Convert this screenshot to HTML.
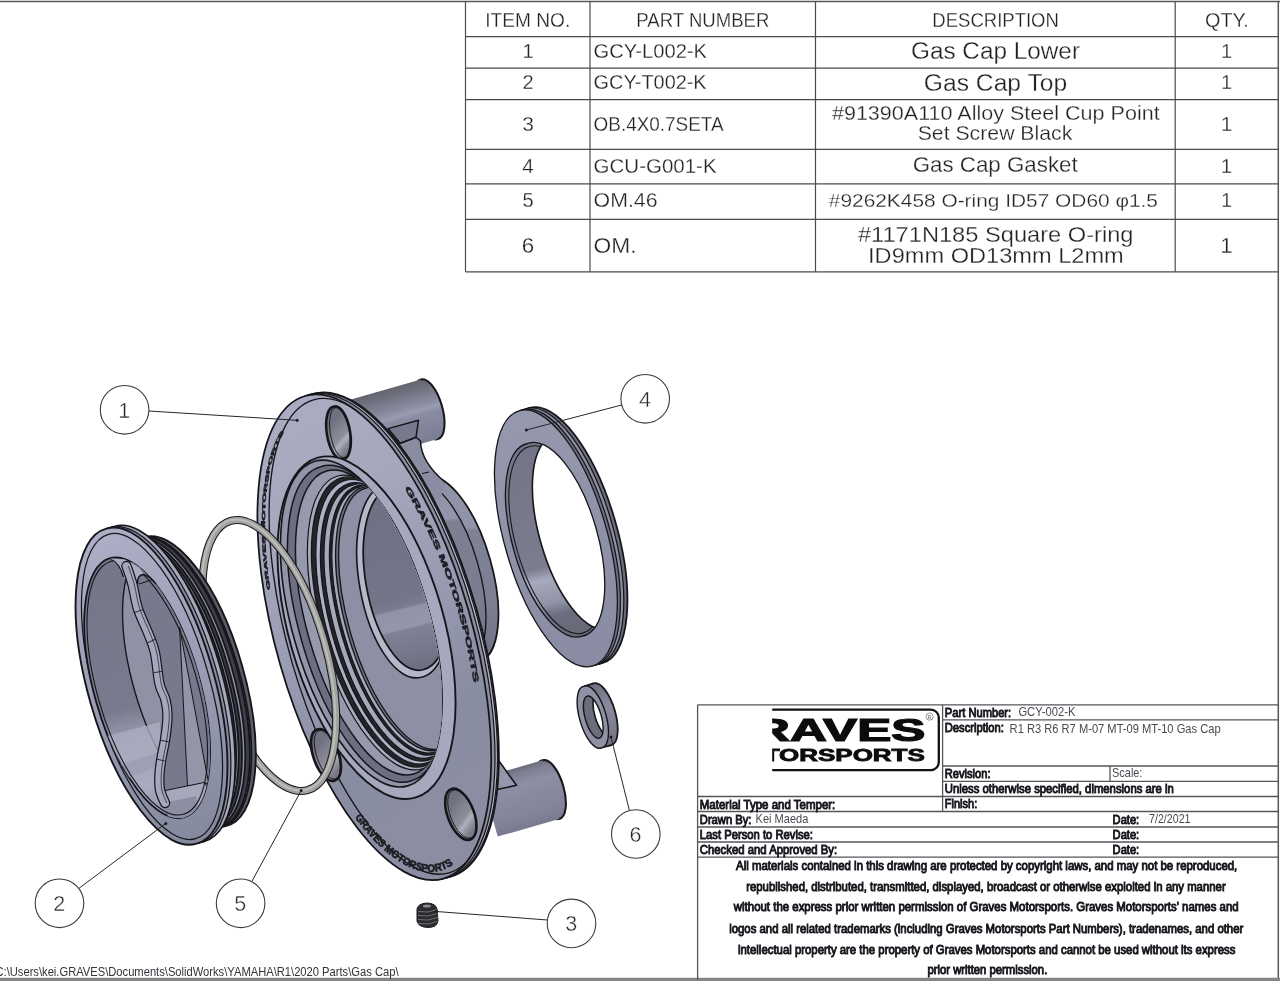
<!DOCTYPE html>
<html><head><meta charset="utf-8"><title>GCY-002-K Gas Cap</title>
<style>
html,body{margin:0;padding:0;background:#fff;}
body{width:1280px;height:981px;overflow:hidden;}
svg{display:block;will-change:transform;font-family:'Liberation Sans','DejaVu Sans',sans-serif;}
</style></head><body>
<svg width="1280" height="981" viewBox="0 0 1280 981">
<defs>
<linearGradient id="gFace" gradientUnits="userSpaceOnUse" x1="280" y1="450" x2="480" y2="760"><stop offset="0" stop-color="#a9acc1"/><stop offset="0.2" stop-color="#a5a8bd"/><stop offset="0.5" stop-color="#999cb2"/><stop offset="0.85" stop-color="#888ca1"/><stop offset="1" stop-color="#8b8ea3"/></linearGradient>
<linearGradient id="gCyl" gradientUnits="objectBoundingBox" x1="0.35" y1="0" x2="0.65" y2="1">
 <stop offset="0" stop-color="#6e7080"/><stop offset="0.3" stop-color="#8a8c9e"/><stop offset="0.55" stop-color="#9ea0b4"/><stop offset="0.62" stop-color="#808294"/><stop offset="1" stop-color="#6c6e7e"/></linearGradient>
<linearGradient id="gBore" gradientUnits="objectBoundingBox" x1="0.4" y1="0" x2="0.6" y2="1">
 <stop offset="0" stop-color="#7d7f90"/><stop offset="0.5" stop-color="#888a9c"/><stop offset="0.56" stop-color="#a6a8ba"/><stop offset="0.68" stop-color="#9698aa"/><stop offset="0.72" stop-color="#777989"/><stop offset="1" stop-color="#6f7181"/></linearGradient>
<linearGradient id="gDark" gradientUnits="objectBoundingBox" x1="0.4" y1="0" x2="0.6" y2="1">
 <stop offset="0" stop-color="#6a6c7b"/><stop offset="0.5" stop-color="#7f8193"/><stop offset="1" stop-color="#656776"/></linearGradient>
<linearGradient id="gTube" gradientUnits="objectBoundingBox" x1="0.42" y1="0" x2="0.58" y2="1">
 <stop offset="0" stop-color="#6d6f7f"/><stop offset="0.25" stop-color="#8c8ea1"/><stop offset="0.45" stop-color="#9c9eb2"/><stop offset="0.6" stop-color="#8b8da0"/><stop offset="1" stop-color="#747687"/></linearGradient>
<linearGradient id="gBoss" gradientUnits="objectBoundingBox" x1="0.3" y1="0" x2="0.7" y2="1">
 <stop offset="0" stop-color="#7a7c8d"/><stop offset="0.5" stop-color="#8f91a5"/><stop offset="1" stop-color="#6f7182"/></linearGradient>
<linearGradient id="gBoss2" gradientUnits="objectBoundingBox" x1="0.3" y1="0" x2="0.7" y2="1">
 <stop offset="0" stop-color="#6c6e7e"/><stop offset="0.3" stop-color="#a0a2b6"/><stop offset="0.5" stop-color="#7c7e90"/><stop offset="1" stop-color="#666878"/></linearGradient>
<linearGradient id="gFace4" gradientUnits="userSpaceOnUse" x1="520" y1="410" x2="600" y2="670"><stop offset="0" stop-color="#9699ae"/><stop offset="1" stop-color="#888ba1"/></linearGradient>
<linearGradient id="gSleeve" gradientUnits="userSpaceOnUse" x1="530" y1="440" x2="575" y2="640">
 <stop offset="0" stop-color="#737586"/><stop offset="0.62" stop-color="#7b7d8f"/><stop offset="0.68" stop-color="#a7a9bc"/><stop offset="0.8" stop-color="#9092a6"/><stop offset="0.86" stop-color="#6c6e7e"/><stop offset="1" stop-color="#666877"/></linearGradient>
<linearGradient id="gRing6" gradientUnits="userSpaceOnUse" x1="590" y1="684" x2="612" y2="748">
 <stop offset="0" stop-color="#6d6f7f"/><stop offset="0.4" stop-color="#8a8c9e"/><stop offset="1" stop-color="#707283"/></linearGradient>
<linearGradient id="gFace2" gradientUnits="userSpaceOnUse" x1="100" y1="540" x2="200" y2="835"><stop offset="0" stop-color="#abaec4"/><stop offset="0.5" stop-color="#999cb2"/><stop offset="1" stop-color="#858a9e"/></linearGradient>
<linearGradient id="gPocket" gradientUnits="userSpaceOnUse" x1="110" y1="560" x2="180" y2="818">
 <stop offset="0" stop-color="#747788"/><stop offset="0.55" stop-color="#787b8d"/><stop offset="0.68" stop-color="#9d9fb3"/><stop offset="0.85" stop-color="#a9abbe"/><stop offset="1" stop-color="#8e90a3"/></linearGradient>
</defs>
<g id="parts" stroke-linejoin="round">
<g id="part1">
<linearGradient id="ug1" gradientUnits="userSpaceOnUse" x1="382.3" y1="390.5" x2="399.4" y2="450.1"><stop offset="0" stop-color="#62646e"/><stop offset="0.12" stop-color="#6e707d"/><stop offset="0.38" stop-color="#898ca0"/><stop offset="0.47" stop-color="#999cb0"/><stop offset="0.55" stop-color="#8a8da2"/><stop offset="0.8" stop-color="#80839a"/><stop offset="1" stop-color="#7b7e92"/></linearGradient>
<path d="M420.8,379.5 A31.0,12.7 74.0 1 0 437.8,439.1 A31.0,12.7 74.0 1 0 420.8,379.5 Z" fill="url(#ug1)" stroke="#15151a" stroke-width="2.03"/>
<polygon points="343.9,401.6 420.8,379.5 437.8,439.1 360.9,461.2" fill="url(#ug1)"/>
<linearGradient id="ug2" gradientUnits="userSpaceOnUse" x1="511.6" y1="769.1" x2="528.4" y2="827.7"><stop offset="0" stop-color="#6a6c79"/><stop offset="0.1" stop-color="#7d8093"/><stop offset="0.28" stop-color="#8d90a4"/><stop offset="0.5" stop-color="#888ba0"/><stop offset="0.8" stop-color="#82859a"/><stop offset="1" stop-color="#787b8f"/></linearGradient>
<path d="M542.4,760.3 A30.5,12.5 74.0 1 0 559.2,818.9 A30.5,12.5 74.0 1 0 542.4,760.3 Z" fill="url(#ug2)" stroke="#15151a" stroke-width="2.03"/>
<polygon points="480.9,777.9 542.4,760.3 559.2,818.9 497.7,836.6" fill="url(#ug2)"/>
<linearGradient id="ug3" gradientUnits="userSpaceOnUse" x1="440.0" y1="450.0" x2="470.0" y2="660.0"><stop offset="0" stop-color="#8d90a4"/><stop offset="0.38" stop-color="#9295a9"/><stop offset="0.4" stop-color="#7f8295"/><stop offset="0.75" stop-color="#7d8093"/><stop offset="1" stop-color="#6f7285"/></linearGradient>
<path d="M426.5,477.8 A95.5,38.2 74.0 1 0 479.1,661.4 A95.5,38.2 74.0 1 0 426.5,477.8 Z" fill="url(#ug3)" stroke="#15151a" stroke-width="1.76"/>
<linearGradient id="ug4" gradientUnits="userSpaceOnUse" x1="430.0" y1="450.0" x2="460.0" y2="660.0"><stop offset="0" stop-color="#8a8da1"/><stop offset="0.33" stop-color="#9497ab"/><stop offset="0.35" stop-color="#7d8093"/><stop offset="0.75" stop-color="#7a7d90"/><stop offset="1" stop-color="#6c6f82"/></linearGradient>
<path d="M414.0,481.4 A95.5,38.2 74.0 1 0 466.6,665.0 A95.5,38.2 74.0 1 0 414.0,481.4 Z" fill="url(#ug4)" stroke="#15151a" stroke-width="1.35"/>
<path d="M400.2,443.3 L416,437.2 L420.4,440.9 Q421,462 445.5,482.5 L441,497 L425,505 L394,446 Z" fill="#8a8da2"/>
<path d="M400.2,443.3 L416,437.2 L420.4,440.9 Q421,462 445.5,482.5" fill="none" stroke="#15151a" stroke-width="1.5"/>
<path d="M388,428.6 L418.5,420.3 L416,437.2 L400.2,443.3 Z" fill="#767a8c" stroke="#15151a" stroke-width="1.5"/>
<path d="M422,473.5 L429,472" stroke="#15151a" stroke-width="1.2"/>
<path d="M496,757 L500.6,763.3 L516.5,785.3 L497,789.5 Z" fill="#9598ad" stroke="#15151a" stroke-width="1.6"/>
<path d="M312.8,393.8 A251.0,98.0 74.0 1 0 451.2,876.4 A251.0,98.0 74.0 1 0 312.8,393.8 Z" fill="#85879a" stroke="#15151a" stroke-width="1.76"/>
<polygon points="305.1,396.0 312.8,393.8 451.2,876.4 443.5,878.6" fill="#85879a"/>
<path d="M305.1,396.0 L312.8,393.8 M443.5,878.6 L451.2,876.4" fill="none" stroke="#15151a" stroke-width="1.49"/>
<path d="M310.2,394.6 A251.0,98.0 74.0 1 0 448.6,877.1 A251.0,98.0 74.0 1 0 310.2,394.6 Z" fill="#b4b6c8" stroke="#15151a" stroke-width="1.22"/>
<path d="M307.7,395.3 A251.0,98.0 74.0 1 0 446.1,877.8 A251.0,98.0 74.0 1 0 307.7,395.3 Z" fill="#8c8ea1" stroke="#15151a" stroke-width="1.22"/>
<path d="M305.1,396.0 A251.0,98.0 74.0 1 0 443.5,878.6 A251.0,98.0 74.0 1 0 305.1,396.0 Z" fill="url(#gFace)" stroke="#15151a" stroke-width="1.76"/>
<clipPath id="faceclip"><ellipse cx="374.3" cy="637.3" rx="98" ry="251.0" transform="rotate(-16.0 374.3 637.3)"/></clipPath>
<g clip-path="url(#faceclip)">
<path d="M313.5,399.8 A246.0,93.0 74.0 1 0 449.1,872.8 A246.0,93.0 74.0 1 0 313.5,399.8 Z" fill="none" stroke="#15151a" stroke-width="1.35"/>
</g>
<linearGradient id="ug5" gradientUnits="userSpaceOnUse" x1="327.4" y1="427.6" x2="349.6" y2="447.7"><stop offset="0" stop-color="#6f7180"/><stop offset="0.3" stop-color="#80828f"/><stop offset="0.55" stop-color="#8b8d99"/><stop offset="0.7" stop-color="#aeb0bd"/><stop offset="0.85" stop-color="#8e909c"/><stop offset="1" stop-color="#777986"/></linearGradient>
<path d="M334.1,406.6 A26.8,11.1 80.5 1 0 342.9,459.4 A26.8,11.1 80.5 1 0 334.1,406.6 Z" fill="url(#ug5)" stroke="#15151a" stroke-width="2.56"/>
<path d="M335.6,407.8 A25.2,9.5 80.5 1 0 344.0,457.6 A25.2,9.5 80.5 1 0 335.6,407.8 Z" fill="none" stroke="#15151a" stroke-width="0.94"/>
<linearGradient id="ug6" gradientUnits="userSpaceOnUse" x1="447.6" y1="808.9" x2="474.0" y2="829.1"><stop offset="0" stop-color="#6f7180"/><stop offset="0.3" stop-color="#80828f"/><stop offset="0.55" stop-color="#8b8d99"/><stop offset="0.7" stop-color="#aeb0bd"/><stop offset="0.85" stop-color="#8e909c"/><stop offset="1" stop-color="#777986"/></linearGradient>
<path d="M451.1,789.1 A27.0,13.2 69 1 0 470.5,839.5 A27.0,13.2 69 1 0 451.1,789.1 Z" fill="url(#ug6)" stroke="#15151a" stroke-width="2.56"/>
<path d="M453.0,790.3 A25.4,11.4 69 1 0 471.2,837.7 A25.4,11.4 69 1 0 453.0,790.3 Z" fill="none" stroke="#15151a" stroke-width="0.94"/>
<linearGradient id="ug7" gradientUnits="userSpaceOnUse" x1="313.9" y1="749.6" x2="338.1" y2="769.9"><stop offset="0" stop-color="#6f7180"/><stop offset="0.3" stop-color="#80828f"/><stop offset="0.55" stop-color="#8b8d99"/><stop offset="0.7" stop-color="#aeb0bd"/><stop offset="0.85" stop-color="#8e909c"/><stop offset="1" stop-color="#777986"/></linearGradient>
<path d="M317.2,729.5 A27.0,12.2 71 1 0 334.8,780.5 A27.0,12.2 71 1 0 317.2,729.5 Z" fill="url(#ug7)" stroke="#15151a" stroke-width="2.56"/>
<path d="M319.0,730.7 A25.4,10.4 71 1 0 335.6,778.7 A25.4,10.4 71 1 0 319.0,730.7 Z" fill="none" stroke="#15151a" stroke-width="0.94"/>
<path d="M317.8,457.7 A176.8,77.5 74.0 1 0 415.2,797.7 A176.8,77.5 74.0 1 0 317.8,457.7 Z" fill="#a6a9be" stroke="#15151a" stroke-width="1.89"/>
<clipPath id="lv1"><path d="M317.8,457.7 A176.8,77.5 74.0 1 0 415.2,797.7 A176.8,77.5 74.0 1 0 317.8,457.7 Z"/></clipPath>
<g clip-path="url(#lv1)">
<path d="M314.7,461.3 A168.8,68.6 74.0 1 0 407.8,785.9 A168.8,68.6 74.0 1 0 314.7,461.3 Z" fill="#9294a8" stroke="#15151a" stroke-width="1.62"/>
<clipPath id="lv2"><path d="M314.7,461.3 A168.8,68.6 74.0 1 0 407.8,785.9 A168.8,68.6 74.0 1 0 314.7,461.3 Z"/></clipPath>
<g clip-path="url(#lv2)">
<path d="M320.8,466.7 A163.5,65.4 74.0 1 0 410.9,781.0 A163.5,65.4 74.0 1 0 320.8,466.7 Z" fill="#6d6f80" stroke="#15151a" stroke-width="1.49"/>
<clipPath id="lv3"><path d="M320.8,466.7 A163.5,65.4 74.0 1 0 410.9,781.0 A163.5,65.4 74.0 1 0 320.8,466.7 Z"/></clipPath>
<g clip-path="url(#lv3)">
<path d="M326.6,471.0 A157.6,63.0 74.0 1 0 413.5,774.0 A157.6,63.0 74.0 1 0 326.6,471.0 Z" fill="#9799ad" stroke="#15151a" stroke-width="1.49"/>
<clipPath id="lv4"><path d="M326.6,471.0 A157.6,63.0 74.0 1 0 413.5,774.0 A157.6,63.0 74.0 1 0 326.6,471.0 Z"/></clipPath>
<g clip-path="url(#lv4)">
<path d="M337.6,476.0 A152.4,61.0 74.0 1 0 421.6,769.0 A152.4,61.0 74.0 1 0 337.6,476.0 Z" fill="#a9abbf" stroke="#15151a" stroke-width="1.22"/>
<clipPath id="lv5"><path d="M337.6,476.0 A152.4,61.0 74.0 1 0 421.6,769.0 A152.4,61.0 74.0 1 0 337.6,476.0 Z"/></clipPath>
<g clip-path="url(#lv5)">
<path d="M341.1,477.9 A149.9,59.9 74.0 1 0 423.7,766.1 A149.9,59.9 74.0 1 0 341.1,477.9 Z" fill="#24242b" stroke="#15151a" stroke-width="1.35"/>
<clipPath id="lv6"><path d="M341.1,477.9 A149.9,59.9 74.0 1 0 423.7,766.1 A149.9,59.9 74.0 1 0 341.1,477.9 Z"/></clipPath>
<g clip-path="url(#lv6)">
<path d="M345.0,480.4 A147.0,58.8 74.0 1 0 426.1,763.1 A147.0,58.8 74.0 1 0 345.0,480.4 Z" fill="#aeb0c3" stroke="#15151a" stroke-width="1.08"/>
<clipPath id="lv7"><path d="M345.0,480.4 A147.0,58.8 74.0 1 0 426.1,763.1 A147.0,58.8 74.0 1 0 345.0,480.4 Z"/></clipPath>
<g clip-path="url(#lv7)">
<path d="M348.9,483.6 A143.8,57.5 74.0 1 0 428.2,760.1 A143.8,57.5 74.0 1 0 348.9,483.6 Z" fill="#24242b" stroke="#15151a" stroke-width="1.35"/>
<clipPath id="lv8"><path d="M348.9,483.6 A143.8,57.5 74.0 1 0 428.2,760.1 A143.8,57.5 74.0 1 0 348.9,483.6 Z"/></clipPath>
<g clip-path="url(#lv8)">
<path d="M353.0,484.9 A141.6,56.6 74.0 1 0 431.0,757.1 A141.6,56.6 74.0 1 0 353.0,484.9 Z" fill="#a6a8bc" stroke="#15151a" stroke-width="1.08"/>
<clipPath id="lv9"><path d="M353.0,484.9 A141.6,56.6 74.0 1 0 431.0,757.1 A141.6,56.6 74.0 1 0 353.0,484.9 Z"/></clipPath>
<g clip-path="url(#lv9)">
<path d="M357.1,485.9 A139.5,55.8 74.0 1 0 434.0,754.1 A139.5,55.8 74.0 1 0 357.1,485.9 Z" fill="#24242b" stroke="#15151a" stroke-width="1.35"/>
<clipPath id="lv10"><path d="M357.1,485.9 A139.5,55.8 74.0 1 0 434.0,754.1 A139.5,55.8 74.0 1 0 357.1,485.9 Z"/></clipPath>
<g clip-path="url(#lv10)">
<path d="M360.7,486.6 A137.9,55.1 74.0 1 0 436.7,751.6 A137.9,55.1 74.0 1 0 360.7,486.6 Z" fill="#a6a8bc" stroke="#15151a" stroke-width="1.08"/>
<clipPath id="lv11"><path d="M360.7,486.6 A137.9,55.1 74.0 1 0 436.7,751.6 A137.9,55.1 74.0 1 0 360.7,486.6 Z"/></clipPath>
<g clip-path="url(#lv11)">
<path d="M363.5,487.2 A136.5,54.6 74.0 1 0 438.7,749.6 A136.5,54.6 74.0 1 0 363.5,487.2 Z" fill="#6f7182" stroke="#15151a" stroke-width="1.35"/>
<clipPath id="lv12"><path d="M363.5,487.2 A136.5,54.6 74.0 1 0 438.7,749.6 A136.5,54.6 74.0 1 0 363.5,487.2 Z"/></clipPath>
<g clip-path="url(#lv12)">
<path d="M366.7,487.9 A135.4,54.2 74.0 1 0 441.4,748.1 A135.4,54.2 74.0 1 0 366.7,487.9 Z" fill="#8d90a5" stroke="#15151a" stroke-width="1.35"/>
<clipPath id="lv13"><path d="M366.7,487.9 A135.4,54.2 74.0 1 0 441.4,748.1 A135.4,54.2 74.0 1 0 366.7,487.9 Z"/></clipPath>
<g clip-path="url(#lv13)">
<path d="M386.2,484.5 A98.0,43.1 80 1 0 420.2,677.5 A98.0,43.1 80 1 0 386.2,484.5 Z" fill="#b6b8ca" stroke="#15151a" stroke-width="1.62"/>
<clipPath id="lv14"><path d="M386.2,484.5 A98.0,43.1 80 1 0 420.2,677.5 A98.0,43.1 80 1 0 386.2,484.5 Z"/></clipPath>
<g clip-path="url(#lv14)">
<linearGradient id="ug8" gradientUnits="userSpaceOnUse" x1="396.0" y1="500.0" x2="438.5" y2="670.0"><stop offset="0" stop-color="#6e7183"/><stop offset="0.55" stop-color="#737688"/><stop offset="0.605" stop-color="#7a7d8f"/><stop offset="0.615" stop-color="#9093a8"/><stop offset="0.72" stop-color="#9497ab"/><stop offset="0.735" stop-color="#7e8194"/><stop offset="0.85" stop-color="#767a8c"/><stop offset="1" stop-color="#696c7d"/></linearGradient>
<path d="M390.2,489.0 A91.9,40.4 80 1 0 422.2,670.0 A91.9,40.4 80 1 0 390.2,489.0 Z" fill="url(#ug8)" stroke="#15151a" stroke-width="1.76"/>
<clipPath id="lv15"><path d="M390.2,489.0 A91.9,40.4 80 1 0 422.2,670.0 A91.9,40.4 80 1 0 390.2,489.0 Z"/></clipPath>
<g clip-path="url(#lv15)">
</g>
</g>
</g>
</g>
</g>
</g>
</g>
</g>
</g>
</g>
</g>
</g>
</g>
</g>
</g>
</g>
<path id="engR" d="M404.3,488.2 L406.7,492.0 L409.1,496.0 L411.5,500.0 L413.8,504.1 L416.1,508.3 L418.4,512.6 L420.7,516.9 L423.0,521.3 L425.2,525.8 L427.4,530.4 L429.6,535.0 L431.7,539.6 L433.8,544.4 L435.8,549.1 L437.9,554.0 L439.9,558.8 L441.8,563.8 L443.7,568.7 L445.6,573.7 L447.4,578.8 L449.2,583.9 L450.9,589.0 L452.6,594.1 L454.3,599.3 L455.9,604.5 L457.5,609.7 L459.0,614.9 L460.4,620.1 L461.8,625.4 L463.2,630.6 L464.5,635.9 L465.7,641.2 L466.9,646.4 L468.1,651.7 L469.2,656.9 L470.2,662.1 L471.2,667.4 L472.1,672.6 L472.9,677.7 L473.7,682.9" fill="none" stroke="none"/>
<text font-size="7.6" font-weight="700" fill="#1e1e24" stroke="#1e1e24" stroke-width="0.55" textLength="208" lengthAdjust="spacingAndGlyphs"><textPath href="#engR">GRAVES MOTORSPORTS</textPath></text>
<path id="engL" d="M270.2,589.6 L269.5,584.5 L268.8,579.5 L268.1,574.4 L267.6,569.4 L267.1,564.5 L266.6,559.6 L266.2,554.7 L265.8,549.9 L265.6,545.1 L265.3,540.4 L265.1,535.7 L265.0,531.0 L265.0,526.5 L265.0,522.0 L265.0,517.5 L265.1,513.1 L265.3,508.8 L265.5,504.5 L265.8,500.3 L266.1,496.2 L266.5,492.2 L267.0,488.2 L267.5,484.3 L268.1,480.5 L268.7,476.8 L269.3,473.1 L270.1,469.6 L270.9,466.1 L271.7,462.7 L272.6,459.4 L273.5,456.2 L274.5,453.1 L275.6,450.1 L276.7,447.2 L277.9,444.4 L279.1,441.7 L280.3,439.1 L281.6,436.6 L283.0,434.2 L284.4,431.9" fill="none" stroke="none"/>
<text font-size="4.6" font-weight="700" fill="#1e1e24" stroke="#1e1e24" stroke-width="0.5" textLength="161" lengthAdjust="spacingAndGlyphs"><textPath href="#engL">GRAVES MOTORSPORTS</textPath></text>
<path id="engB" d="M354.8,817.2 L357.4,820.7 L360.1,824.2 L362.8,827.5 L365.4,830.7 L368.1,833.8 L370.8,836.8 L373.5,839.7 L376.2,842.5 L378.9,845.1 L381.6,847.7 L384.3,850.1 L386.9,852.4 L389.6,854.6 L392.3,856.6 L394.9,858.5 L397.6,860.3 L400.2,862.0 L402.8,863.5 L405.4,865.0 L408.0,866.2 L410.6,867.4 L413.1,868.4 L415.6,869.3 L418.1,870.1 L420.6,870.7 L423.0,871.2 L425.4,871.5 L427.8,871.8 L430.2,871.9 L432.5,871.8 L434.8,871.6 L437.0,871.3 L439.3,870.9 L441.5,870.3 L443.6,869.6 L445.7,868.8 L447.8,867.8 L449.8,866.7 L451.8,865.5 L453.7,864.1" fill="none" stroke="none"/>
<text font-size="10.5" font-weight="700" fill="#1e1e24" stroke="#1e1e24" stroke-width="0.7" textLength="121" lengthAdjust="spacingAndGlyphs"><textPath href="#engB">GRAVES MOTORSPORTS</textPath></text>
</g>
<g id="part4">
<path d="M529.4,407.9 A132.7,50.9 74.0 1 0 602.6,663.0 A132.7,50.9 74.0 1 0 529.4,407.9 Z" fill="#6b6d7d" stroke="#15151a" stroke-width="1.76"/>
<polygon points="519.3,410.8 529.4,407.9 602.6,663.0 592.5,665.9" fill="#6b6d7d"/>
<path d="M519.3,410.8 L529.4,407.9 M592.5,665.9 L602.6,663.0" fill="none" stroke="#15151a" stroke-width="1.49"/>
<path d="M526.0,408.8 A132.7,50.9 74.0 1 0 599.2,664.0 A132.7,50.9 74.0 1 0 526.0,408.8 Z" fill="#8d8fa3" stroke="#15151a" stroke-width="1.22"/>
<path d="M522.7,409.8 A132.7,50.9 74.0 1 0 595.8,665.0 A132.7,50.9 74.0 1 0 522.7,409.8 Z" fill="#6f7182" stroke="#15151a" stroke-width="1.22"/>
<clipPath id="g4i"><path d="M527.5,443.5 A100.2,41.0 74.0 1 0 582.7,636.0 A100.2,41.0 74.0 1 0 527.5,443.5 Z"/></clipPath>
<g clip-path="url(#g4i)">
<path d="M527.5,443.5 A100.2,41.0 74.0 1 0 582.7,636.0 A100.2,41.0 74.0 1 0 527.5,443.5 Z" fill="url(#gSleeve)" stroke="#15151a" stroke-width="0.00"/>
<path d="M529.6,446.6 A96.9,39.9 74.0 1 0 582.9,632.9 A96.9,39.9 74.0 1 0 529.6,446.6 Z" fill="none" stroke="#15151a" stroke-width="1.08"/>
<path d="M553.4,436.0 A100.2,41.0 74.0 1 0 608.7,628.6 A100.2,41.0 74.0 1 0 553.4,436.0 Z" fill="#ffffff" stroke="#15151a" stroke-width="1.62"/>
</g>
<path d="M519.3,410.8 A132.7,50.9 74.0 1 0 592.5,665.9 A132.7,50.9 74.0 1 0 519.3,410.8 Z M527.5,443.5 A100.2,41.0 74.0 1 0 582.7,636.0 A100.2,41.0 74.0 1 0 527.5,443.5 Z" fill-rule="evenodd" fill="url(#gFace4)" stroke="#15151a" stroke-width="1.3"/>
</g>
<g id="part6">
<path d="M593.6,683.4 A32.1,12.5 74.0 1 0 611.2,745.1 A32.1,12.5 74.0 1 0 593.6,683.4 Z" fill="url(#gRing6)" stroke="#15151a" stroke-width="1.76"/>
<polygon points="584.0,686.2 593.6,683.4 611.2,745.1 601.6,747.8" fill="url(#gRing6)"/>
<path d="M584.0,686.2 L593.6,683.4 M601.6,747.8 L611.2,745.1" fill="none" stroke="#15151a" stroke-width="1.62"/>
<clipPath id="g6i"><path d="M587.2,696.2 A21.8,8.1 74.0 1 0 599.3,738.2 A21.8,8.1 74.0 1 0 587.2,696.2 Z"/></clipPath>
<g clip-path="url(#g6i)">
<path d="M587.2,696.2 A21.8,8.1 74.0 1 0 599.3,738.2 A21.8,8.1 74.0 1 0 587.2,696.2 Z" fill="#6b6d7b" stroke="#15151a" stroke-width="0.00"/>
<path d="M596.8,693.5 A21.8,8.1 74.0 1 0 608.9,735.4 A21.8,8.1 74.0 1 0 596.8,693.5 Z" fill="#ffffff" stroke="#15151a" stroke-width="1.62"/>
</g>
<path d="M584.0,686.2 A32.1,12.5 74.0 1 0 601.6,747.8 A32.1,12.5 74.0 1 0 584.0,686.2 Z M587.2,696.2 A21.8,8.1 74.0 1 0 599.3,738.2 A21.8,8.1 74.0 1 0 587.2,696.2 Z" fill-rule="evenodd" fill="#8f91a4" stroke="#15151a" stroke-width="1.4"/>
</g>
<g id="part3">
<path d="M417,909 Q418,903.5 427,903 Q436,903.5 437,909 L438,921 Q437,927.5 428,927.5 Q418,927 417,921 Z" fill="#2b2b30" stroke="#1d1d22" stroke-width="1"/>
<path d="M418,911.5 Q428,913.5 437.5,909.5" fill="none" stroke="#77777c" stroke-width="0.9"/>
<path d="M418,915.5 Q428,917.5 437.5,913.5" fill="none" stroke="#77777c" stroke-width="0.9"/>
<path d="M418,919.5 Q428,921.5 437.5,917.5" fill="none" stroke="#77777c" stroke-width="0.9"/>
<path d="M418,923.5 Q428,925.5 437.5,921.5" fill="none" stroke="#77777c" stroke-width="0.9"/>
<ellipse cx="427" cy="906" rx="4" ry="1.5" fill="#8a8a90"/>
</g>
<g id="part5">
<path d="M230.6,520.9 A140.0,56.8 74.0 1 0 307.7,790.1 A140.0,56.8 74.0 1 0 230.6,520.9 Z" fill="none" stroke="#1d1d22" stroke-width="8.20"/>
<path d="M230.6,520.9 A140.0,56.8 74.0 1 0 307.7,790.1 A140.0,56.8 74.0 1 0 230.6,520.9 Z" fill="none" stroke="#a2a29f" stroke-width="6.00"/>
<path d="M229.8,520.3 A140.0,56.8 74.0 1 0 306.9,789.5 A140.0,56.8 74.0 1 0 229.8,520.3 Z" fill="none" stroke="#bdbdb9" stroke-width="2.00"/>
</g>
<g id="part2">
<path d="M143.7,537.5 A150.0,57.8 74.0 1 0 226.3,825.8 A150.0,57.8 74.0 1 0 143.7,537.5 Z" fill="#5b5d6b" stroke="#15151a" stroke-width="1.89"/>
<polygon points="114.2,541.0 143.7,537.5 226.3,825.8 196.8,829.3" fill="#5b5d6b"/>
<path d="M114.2,541.0 L143.7,537.5 M196.8,829.3 L226.3,825.8" fill="none" stroke="#15151a" stroke-width="1.6"/>
<path d="M140.7,537.8 A150.0,57.8 74.0 1 0 223.4,826.2 A150.0,57.8 74.0 1 0 140.7,537.8 Z" fill="#8f91a4" stroke="#15151a" stroke-width="1.76"/>
<path d="M137.8,538.2 A150.0,57.8 74.0 1 0 220.4,826.5 A150.0,57.8 74.0 1 0 137.8,538.2 Z" fill="#3c3d47" stroke="#15151a" stroke-width="1.76"/>
<path d="M134.5,538.5 A150.0,57.8 74.0 1 0 217.2,826.9 A150.0,57.8 74.0 1 0 134.5,538.5 Z" fill="#8f91a4" stroke="#15151a" stroke-width="1.76"/>
<path d="M131.3,538.9 A150.0,57.8 74.0 1 0 214.0,827.3 A150.0,57.8 74.0 1 0 131.3,538.9 Z" fill="#3c3d47" stroke="#15151a" stroke-width="1.76"/>
<path d="M128.0,539.3 A150.0,57.8 74.0 1 0 210.7,827.7 A150.0,57.8 74.0 1 0 128.0,539.3 Z" fill="#8f91a4" stroke="#15151a" stroke-width="1.76"/>
<path d="M125.4,539.6 A150.0,57.8 74.0 1 0 208.1,828.0 A150.0,57.8 74.0 1 0 125.4,539.6 Z" fill="#3c3d47" stroke="#15151a" stroke-width="1.76"/>
<path d="M114.1,526.5 A163.8,62.3 74.0 1 0 204.3,841.4 A163.8,62.3 74.0 1 0 114.1,526.5 Z" fill="#a6a8bc" stroke="#15151a" stroke-width="1.62"/>
<polygon points="106.4,528.7 114.1,526.5 204.3,841.4 196.6,843.6" fill="#a6a8bc"/>
<path d="M106.4,528.7 L114.1,526.5 M196.6,843.6 L204.3,841.4" fill="none" stroke="#15151a" stroke-width="1.49"/>
<path d="M110.2,527.6 A163.8,62.3 74.0 1 0 200.5,842.5 A163.8,62.3 74.0 1 0 110.2,527.6 Z" fill="#8b8da0" stroke="#15151a" stroke-width="1.22"/>
<path d="M106.4,528.7 A163.8,62.3 74.0 1 0 196.6,843.6 A163.8,62.3 74.0 1 0 106.4,528.7 Z" fill="url(#gFace2)" stroke="#15151a" stroke-width="1.89"/>
<path d="M108.4,534.3 A158.3,57.6 74.0 1 0 195.6,838.7 A158.3,57.6 74.0 1 0 108.4,534.3 Z" fill="none" stroke="#15151a" stroke-width="1.22"/>
<clipPath id="p2i"><path d="M110.0,558.2 A134.7,52.8 74.0 1 0 184.2,817.2 A134.7,52.8 74.0 1 0 110.0,558.2 Z"/></clipPath>
<path d="M110.0,558.2 A134.7,52.8 74.0 1 0 184.2,817.2 A134.7,52.8 74.0 1 0 110.0,558.2 Z" fill="url(#gPocket)" stroke="#15151a" stroke-width="1.76"/>
<g clip-path="url(#p2i)">
<path d="M148.4,547.2 A134.7,52.8 74.0 1 0 222.7,806.2 A134.7,52.8 74.0 1 0 148.4,547.2 Z" fill="#8f91a5" stroke="#15151a" stroke-width="1.35"/>
<path d="M84,742 L160,722 L160,752 L100,775 Z" fill="#aaacbf" opacity="0.8"/>
<path d="M84,775 L160,752 L160,764 L104,790 Z" fill="#9a9cb0" opacity="0.6"/>
<path d="M126.5,566.0 C127.5,569.1 130.6,577.3 132.5,584.5 C134.4,591.7 135.3,600.8 138.0,609.0 C140.7,617.2 145.7,626.7 148.5,634.0 C151.3,641.3 153.2,644.7 155.0,653.0 C156.8,661.3 157.8,676.2 159.5,684.0 C161.2,691.8 164.2,694.5 165.5,700.0 C166.8,705.5 167.6,710.3 167.5,717.0 C167.4,723.7 166.0,733.2 165.0,740.0 C164.0,746.8 162.4,752.3 161.5,758.0 C160.6,763.7 159.8,768.7 159.5,774.0 C159.2,779.3 159.1,785.2 160.0,790.0 C160.9,794.8 164.2,800.8 165.0,803.0 L200,840 L240,760 L215,600 L150,540 Z" fill="#777a8d"/>
<path d="M179.6,627.6 L208.5,783 L187.5,786 Z" fill="#9395a9" stroke="#15151a" stroke-width="1"/>
<path d="M163,791 L205,782.3 L212,800 L190,825 L168,818 Z" fill="#a6a8bc" stroke="#15151a" stroke-width="1"/>
<path d="M163,803 L196,796 L199,815 L170,822 Z" fill="#8c8ea2"/>
<path d="M139,584 L176,572" fill="none" stroke="#15151a" stroke-width="1"/>
</g>
<path d="M111.0,561.2 A131.6,50.0 74.0 1 0 183.5,814.3 A131.6,50.0 74.0 1 0 111.0,561.2 Z" fill="none" stroke="#15151a" stroke-width="1.08"/>
<path d="M110,558.5 L124.9,559.5 L138.5,567 L144,574 L138.4,577.8 L137,588 L128.7,582.6 L123.5,577 L117,564.5 Z" fill="#a9acc1"/>
<path d="M111,559.5 Q119,562 123.5,577" fill="none" stroke="#15151a" stroke-width="1.3"/>
<path d="M137.6,584 Q137,575 143.5,574.5 Q150,576 156,584" fill="none" stroke="#15151a" stroke-width="1.3"/>
<path d="M126.5,566.0 C127.5,569.1 130.6,577.3 132.5,584.5 C134.4,591.7 135.3,600.8 138.0,609.0 C140.7,617.2 145.7,626.7 148.5,634.0 C151.3,641.3 153.2,644.7 155.0,653.0 C156.8,661.3 157.8,676.2 159.5,684.0 C161.2,691.8 164.2,694.5 165.5,700.0 C166.8,705.5 167.6,710.3 167.5,717.0 C167.4,723.7 166.0,733.2 165.0,740.0 C164.0,746.8 162.4,752.3 161.5,758.0 C160.6,763.7 159.8,768.7 159.5,774.0 C159.2,779.3 159.1,785.2 160.0,790.0 C160.9,794.8 164.2,800.8 165.0,803.0" fill="none" stroke="#15151a" stroke-width="10.4" stroke-linecap="round"/>
<path d="M126.5,566.0 C127.5,569.1 130.6,577.3 132.5,584.5 C134.4,591.7 135.3,600.8 138.0,609.0 C140.7,617.2 145.7,626.7 148.5,634.0 C151.3,641.3 153.2,644.7 155.0,653.0 C156.8,661.3 157.8,676.2 159.5,684.0 C161.2,691.8 164.2,694.5 165.5,700.0 C166.8,705.5 167.6,710.3 167.5,717.0 C167.4,723.7 166.0,733.2 165.0,740.0 C164.0,746.8 162.4,752.3 161.5,758.0 C160.6,763.7 159.8,768.7 159.5,774.0 C159.2,779.3 159.1,785.2 160.0,790.0 C160.9,794.8 164.2,800.8 165.0,803.0" fill="none" stroke="#a5a8bd" stroke-width="8.0" stroke-linecap="round"/>
<path d="M126.5,566.0 C127.5,569.1 130.6,577.3 132.5,584.5 C134.4,591.7 135.3,600.8 138.0,609.0 C140.7,617.2 145.7,626.7 148.5,634.0 C151.3,641.3 153.2,644.7 155.0,653.0 C156.8,661.3 157.8,676.2 159.5,684.0 C161.2,691.8 164.2,694.5 165.5,700.0 C166.8,705.5 167.6,710.3 167.5,717.0 C167.4,723.7 166.0,733.2 165.0,740.0 C164.0,746.8 162.4,752.3 161.5,758.0 C160.6,763.7 159.8,768.7 159.5,774.0 C159.2,779.3 159.1,785.2 160.0,790.0 C160.9,794.8 164.2,800.8 165.0,803.0" fill="none" stroke="#15151a" stroke-width="0.7" transform="translate(1.8,0)"/>
<line x1="134.8" y1="611" x2="143.2" y2="611" stroke="#15151a" stroke-width="0.8" transform="rotate(-20 139 611)"/>
<line x1="147.3" y1="641" x2="155.7" y2="641" stroke="#15151a" stroke-width="0.8" transform="rotate(-25 151.5 641)"/>
<line x1="153.8" y1="672" x2="162.2" y2="672" stroke="#15151a" stroke-width="0.8" transform="rotate(-10 158 672)"/>
<line x1="160.3" y1="741" x2="168.7" y2="741" stroke="#15151a" stroke-width="0.8" transform="rotate(10 164.5 741)"/>
<line x1="156.3" y1="760" x2="164.7" y2="760" stroke="#15151a" stroke-width="0.8" transform="rotate(12 160.5 760)"/>
</g>
</g>
<g id="balloons">
<line x1="149" y1="411" x2="297.1" y2="420.3" stroke="#26262c" stroke-width="1"/>
<circle cx="297.1" cy="420.3" r="1.5" fill="#1b1b20"/>
<circle cx="124.6" cy="409.8" r="24.3" fill="#fff" stroke="#3a3a40" stroke-width="1.1"/>
<text x="124.3" y="417.6" font-size="21.5" text-anchor="middle" fill="#26262b" stroke="#fff" stroke-width="0.4">1</text>
<line x1="621.6" y1="405" x2="526.3" y2="430" stroke="#26262c" stroke-width="1"/>
<circle cx="526.3" cy="430" r="1.5" fill="#1b1b20"/>
<circle cx="645.2" cy="398.8" r="24.3" fill="#fff" stroke="#3a3a40" stroke-width="1.1"/>
<text x="644.9000000000001" y="406.6" font-size="21.5" text-anchor="middle" fill="#26262b" stroke="#fff" stroke-width="0.4">4</text>
<line x1="79" y1="888.3" x2="165.8" y2="823.4" stroke="#26262c" stroke-width="1"/>
<circle cx="165.8" cy="823.4" r="1.5" fill="#1b1b20"/>
<circle cx="59.5" cy="903.3" r="24.3" fill="#fff" stroke="#3a3a40" stroke-width="1.1"/>
<text x="59.2" y="911.0999999999999" font-size="21.5" text-anchor="middle" fill="#26262b" stroke="#fff" stroke-width="0.4">2</text>
<line x1="252" y1="881.2" x2="301.2" y2="790.5" stroke="#26262c" stroke-width="1"/>
<circle cx="301.2" cy="790.5" r="1.5" fill="#1b1b20"/>
<circle cx="240.6" cy="903.3" r="24.3" fill="#fff" stroke="#3a3a40" stroke-width="1.1"/>
<text x="240.29999999999998" y="911.0999999999999" font-size="21.5" text-anchor="middle" fill="#26262b" stroke="#fff" stroke-width="0.4">5</text>
<line x1="629.3" y1="810" x2="611" y2="737" stroke="#26262c" stroke-width="1"/>
<circle cx="611" cy="737" r="1.5" fill="#1b1b20"/>
<circle cx="635.8" cy="834" r="24.3" fill="#fff" stroke="#3a3a40" stroke-width="1.1"/>
<text x="635.5" y="841.8" font-size="21.5" text-anchor="middle" fill="#26262b" stroke="#fff" stroke-width="0.4">6</text>
<line x1="547.3" y1="920" x2="436.6" y2="911.5" stroke="#26262c" stroke-width="1"/>
<circle cx="436.6" cy="911.5" r="1.5" fill="#1b1b20"/>
<circle cx="571.5" cy="923.4" r="24.3" fill="#fff" stroke="#3a3a40" stroke-width="1.1"/>
<text x="571.2" y="931.1999999999999" font-size="21.5" text-anchor="middle" fill="#26262b" stroke="#fff" stroke-width="0.4">3</text>
</g>
<g id="frame" stroke="#55555a" fill="none">
<line x1="0" y1="1.5" x2="1280" y2="1.5" stroke-width="1.4"/>
<line x1="1278.3" y1="1" x2="1278.3" y2="981" stroke-width="1.5"/>
<line x1="0" y1="979.4" x2="1280" y2="979.4" stroke-width="3.2" stroke="#85858a"/>
</g>
<g id="bom" stroke="#4a4a50" stroke-width="1.2" fill="none">
<line x1="465.5" y1="36.7" x2="1278.3" y2="36.7"/>
<line x1="465.5" y1="68.2" x2="1278.3" y2="68.2"/>
<line x1="465.5" y1="99.6" x2="1278.3" y2="99.6"/>
<line x1="465.5" y1="149.3" x2="1278.3" y2="149.3"/>
<line x1="465.5" y1="183.8" x2="1278.3" y2="183.8"/>
<line x1="465.5" y1="219.3" x2="1278.3" y2="219.3"/>
<line x1="465.5" y1="271.8" x2="1278.3" y2="271.8"/>
<line x1="465.5" y1="1.6" x2="465.5" y2="271.8"/>
<line x1="590" y1="1.6" x2="590" y2="271.8"/>
<line x1="815.5" y1="1.6" x2="815.5" y2="271.8"/>
<line x1="1175.2" y1="1.6" x2="1175.2" y2="271.8"/>
</g>
<g id="bomtext" fill="#26262b" stroke="#fff" stroke-width="0.28">
<text x="485.3" y="26.8" font-size="20" text-anchor="start" fill="#222" textLength="85" lengthAdjust="spacingAndGlyphs">ITEM NO.</text>
<text x="636.3" y="26.8" font-size="20" text-anchor="start" fill="#222" textLength="133" lengthAdjust="spacingAndGlyphs">PART NUMBER</text>
<text x="932.3" y="26.8" font-size="20" text-anchor="start" fill="#222" textLength="126.6" lengthAdjust="spacingAndGlyphs">DESCRIPTION</text>
<text x="1205" y="26.8" font-size="20" text-anchor="start" fill="#222" textLength="43.7" lengthAdjust="spacingAndGlyphs">QTY.</text>
<text x="528" y="58.3" font-size="20" text-anchor="middle" fill="#222">1</text>
<text x="593.6" y="58.3" font-size="20" text-anchor="start" fill="#222" textLength="113.4" lengthAdjust="spacingAndGlyphs">GCY-L002-K</text>
<text x="1226.5" y="58.3" font-size="20" text-anchor="middle" fill="#222">1</text>
<text x="528" y="89.3" font-size="20" text-anchor="middle" fill="#222">2</text>
<text x="593.6" y="89.3" font-size="20" text-anchor="start" fill="#222" textLength="113" lengthAdjust="spacingAndGlyphs">GCY-T002-K</text>
<text x="1226.5" y="89.3" font-size="20" text-anchor="middle" fill="#222">1</text>
<text x="528" y="130.86" font-size="21" text-anchor="middle" fill="#222">3</text>
<text x="593.6" y="130.86" font-size="21" text-anchor="start" fill="#222" textLength="130" lengthAdjust="spacingAndGlyphs">OB.4X0.7SETA</text>
<text x="1226.5" y="130.86" font-size="21" text-anchor="middle" fill="#222">1</text>
<text x="528" y="172.68" font-size="20.5" text-anchor="middle" fill="#222">4</text>
<text x="593.6" y="172.68" font-size="20.5" text-anchor="start" fill="#222" textLength="123" lengthAdjust="spacingAndGlyphs">GCU-G001-K</text>
<text x="1226.5" y="172.68" font-size="20.5" text-anchor="middle" fill="#222">1</text>
<text x="528" y="207.2" font-size="20" text-anchor="middle" fill="#222">5</text>
<text x="593.6" y="207.2" font-size="20" text-anchor="start" fill="#222" textLength="64" lengthAdjust="spacingAndGlyphs">OM.46</text>
<text x="1226.5" y="207.2" font-size="20" text-anchor="middle" fill="#222">1</text>
<text x="528" y="252.828" font-size="22.3" text-anchor="middle" fill="#222">6</text>
<text x="593.6" y="252.828" font-size="22.3" text-anchor="start" fill="#222" textLength="43" lengthAdjust="spacingAndGlyphs">OM.</text>
<text x="1226.5" y="252.828" font-size="22.3" text-anchor="middle" fill="#222">1</text>
<text x="995.5" y="58.7" font-size="23" text-anchor="middle" fill="#222" textLength="169" lengthAdjust="spacingAndGlyphs">Gas Cap Lower</text>
<text x="995.5" y="90.7" font-size="23" text-anchor="middle" fill="#222" textLength="143.3" lengthAdjust="spacingAndGlyphs">Gas Cap Top</text>
<text x="995.8" y="120.4" font-size="20.6" text-anchor="middle" fill="#222" textLength="327.7" lengthAdjust="spacingAndGlyphs">#91390A110 Alloy Steel Cup Point</text>
<text x="995" y="139.8" font-size="20.6" text-anchor="middle" fill="#222" textLength="154.7" lengthAdjust="spacingAndGlyphs">Set Screw Black</text>
<text x="995.2" y="172.4" font-size="21.3" text-anchor="middle" fill="#222" textLength="165" lengthAdjust="spacingAndGlyphs">Gas Cap Gasket</text>
<text x="993.4" y="207.1" font-size="19" text-anchor="middle" fill="#222" textLength="329.2" lengthAdjust="spacingAndGlyphs">#9262K458 O-ring ID57 OD60 φ1.5</text>
<text x="995.7" y="242.3" font-size="21.7" text-anchor="middle" fill="#222" textLength="275.5" lengthAdjust="spacingAndGlyphs">#1171N185 Square O-ring</text>
<text x="995.9" y="262.6" font-size="21.7" text-anchor="middle" fill="#222" textLength="255.7" lengthAdjust="spacingAndGlyphs">ID9mm OD13mm L2mm</text>
</g>
<g id="titleblock" stroke="#55555c" stroke-width="1.3" fill="none">
<line x1="697.6" y1="704.8" x2="1278.3" y2="704.8"/>
<line x1="697.6" y1="704.8" x2="697.6" y2="980"/>
<line x1="697.6" y1="796.5" x2="1278.3" y2="796.5"/>
<line x1="697.6" y1="811.5" x2="1278.3" y2="811.5"/>
<line x1="697.6" y1="827" x2="1278.3" y2="827"/>
<line x1="697.6" y1="842" x2="1278.3" y2="842"/>
<line x1="697.6" y1="857.1" x2="1278.3" y2="857.1"/>
<line x1="942.6" y1="719.8" x2="1278.3" y2="719.8"/>
<line x1="942.6" y1="766" x2="1278.3" y2="766"/>
<line x1="942.6" y1="781.3" x2="1278.3" y2="781.3"/>
<line x1="942.6" y1="704.8" x2="942.6" y2="811.5"/>
<line x1="1110" y1="766" x2="1110" y2="781.3"/>
</g>
<clipPath id="logoclip"><rect x="772.2" y="700" width="175" height="80"/></clipPath>
<g id="logo" clip-path="url(#logoclip)">
<rect x="740" y="709.6" width="198.8" height="60.5" rx="8" ry="8" fill="none" stroke="#111" stroke-width="2.3"/>
<text x="925.3" y="740.8" font-size="30.5" font-weight="700" text-anchor="end" fill="#0c0c0c" stroke="#0c0c0c" stroke-width="1.2" textLength="212" lengthAdjust="spacingAndGlyphs">GRAVES</text>
<text x="924.8" y="760.9" font-size="16.2" font-weight="700" text-anchor="end" fill="#0c0c0c" stroke="#0c0c0c" stroke-width="0.8" textLength="203" lengthAdjust="spacingAndGlyphs">MOTORSPORTS</text>
<circle cx="929.6" cy="716.6" r="3.6" fill="none" stroke="#777" stroke-width="0.8"/>
<text x="929.6" y="718.6" font-size="5.5" text-anchor="middle" fill="#666">R</text>
</g>
<g id="tbtext">
<text x="944.8" y="716.8" font-size="13" fill="#17171d" stroke="#17171d" stroke-width="0.95" textLength="66.4" lengthAdjust="spacingAndGlyphs">Part Number:</text>
<text x="1018.4" y="715.8" font-size="13" fill="#4a4a52" textLength="57" lengthAdjust="spacingAndGlyphs">GCY-002-K</text>
<text x="944.8" y="732.2" font-size="13" fill="#17171d" stroke="#17171d" stroke-width="0.95" textLength="59" lengthAdjust="spacingAndGlyphs">Description:</text>
<text x="1009.6" y="732.6" font-size="13" fill="#4a4a52" textLength="211" lengthAdjust="spacingAndGlyphs">R1 R3 R6 R7 M-07 MT-09 MT-10 Gas Cap</text>
<text x="944.8" y="778.1" font-size="13" fill="#17171d" stroke="#17171d" stroke-width="0.95" textLength="45.7" lengthAdjust="spacingAndGlyphs">Revision:</text>
<text x="1112.1" y="777.4" font-size="13" fill="#4a4a52" textLength="30.3" lengthAdjust="spacingAndGlyphs">Scale:</text>
<text x="944.8" y="793.3" font-size="13" fill="#17171d" stroke="#17171d" stroke-width="0.95" textLength="229" lengthAdjust="spacingAndGlyphs">Unless otherwise specified, dimensions are in</text>
<text x="944.8" y="808.4" font-size="13" fill="#17171d" stroke="#17171d" stroke-width="0.95" textLength="32.4" lengthAdjust="spacingAndGlyphs">Finish:</text>
<text x="699.8" y="808.7" font-size="13" fill="#17171d" stroke="#17171d" stroke-width="0.95" textLength="135.5" lengthAdjust="spacingAndGlyphs">Material Type and Temper:</text>
<text x="699.8" y="823.9" font-size="13" fill="#17171d" stroke="#17171d" stroke-width="0.95" textLength="51.6" lengthAdjust="spacingAndGlyphs">Drawn By:</text>
<text x="755.6" y="823.4" font-size="13" fill="#4a4a52" textLength="52.7" lengthAdjust="spacingAndGlyphs">Kei Maeda</text>
<text x="699.8" y="838.7" font-size="13" fill="#17171d" stroke="#17171d" stroke-width="0.95" textLength="113.2" lengthAdjust="spacingAndGlyphs">Last Person to Revise:</text>
<text x="699.8" y="853.9" font-size="13" fill="#17171d" stroke="#17171d" stroke-width="0.95" textLength="137.4" lengthAdjust="spacingAndGlyphs">Checked and Approved By:</text>
<text x="1112.6" y="823.8" font-size="13" fill="#17171d" stroke="#17171d" stroke-width="0.95" textLength="26.6" lengthAdjust="spacingAndGlyphs">Date:</text>
<text x="1149" y="822.5" font-size="13" fill="#4a4a52" textLength="41.5" lengthAdjust="spacingAndGlyphs">7/2/2021</text>
<text x="1112.6" y="838.7" font-size="13" fill="#17171d" stroke="#17171d" stroke-width="0.95" textLength="26.6" lengthAdjust="spacingAndGlyphs">Date:</text>
<text x="1112.6" y="853.8" font-size="13" fill="#17171d" stroke="#17171d" stroke-width="0.95" textLength="26.6" lengthAdjust="spacingAndGlyphs">Date:</text>
<text x="736.1" y="869.8" font-size="13" fill="#17171d" stroke="#17171d" stroke-width="0.95" textLength="501.2" lengthAdjust="spacingAndGlyphs">All materials contained in this drawing are protected by copyright laws, and may not be reproduced,</text>
<text x="746.2" y="891" font-size="13" fill="#17171d" stroke="#17171d" stroke-width="0.95" textLength="479.5" lengthAdjust="spacingAndGlyphs">republished, distributed, transmitted, displayed, broadcast or otherwise exploited in any manner</text>
<text x="733.8" y="911.4" font-size="13" fill="#17171d" stroke="#17171d" stroke-width="0.95" textLength="504.8" lengthAdjust="spacingAndGlyphs">without the express prior written permission of Graves Motorsports. Graves Motorsports' names and</text>
<text x="729.2" y="933" font-size="13" fill="#17171d" stroke="#17171d" stroke-width="0.95" textLength="514.1" lengthAdjust="spacingAndGlyphs">logos and all related trademarks (including Graves Motorsports Part Numbers), tradenames, and other</text>
<text x="738" y="953.8" font-size="13" fill="#17171d" stroke="#17171d" stroke-width="0.95" textLength="497.4" lengthAdjust="spacingAndGlyphs">intellectual property are the property of Graves Motorsports and cannot be used without its express</text>
<text x="927.4" y="974" font-size="13" fill="#17171d" stroke="#17171d" stroke-width="0.95" textLength="119.9" lengthAdjust="spacingAndGlyphs">prior written permission.</text>
</g>
<text x="-4.5" y="976.1" font-size="13.5" fill="#33333a" textLength="403" lengthAdjust="spacingAndGlyphs">C:\Users\kei.GRAVES\Documents\SolidWorks\YAMAHA\R1\2020 Parts\Gas Cap\</text>
</svg>
</body></html>
